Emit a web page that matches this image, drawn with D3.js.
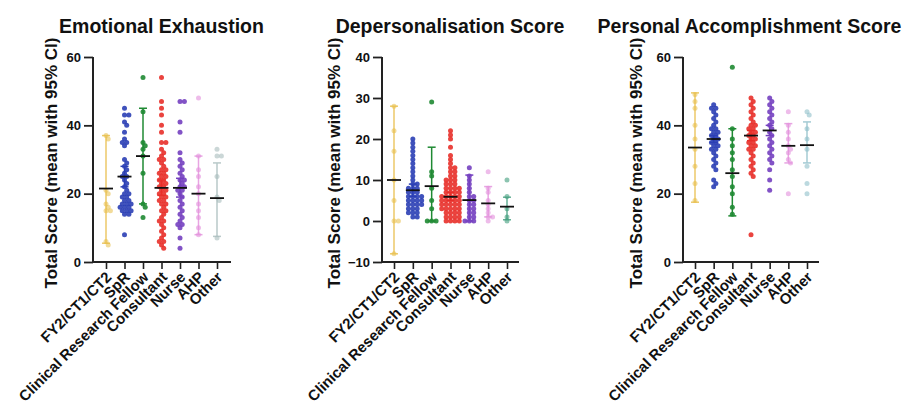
<!DOCTYPE html>
<html>
<head>
<meta charset="utf-8">
<script src="https://cdn.jsdelivr.net/npm/d3@7"></script>
<style>
  html, body { margin: 0; padding: 0; background: #fff; }
  svg { display: block; }
  text { font-family: "Liberation Sans", Arial, sans-serif; font-weight: bold; fill: #111; }
</style>
</head>
<body>
<svg id="chart" width="906" height="410"></svg>
<script>
// ---------- DATA ----------
const categories = ["FY2/CT1/CT2", "SpR", "Clinical Research Fellow", "Consultant", "Nurse", "AHP", "Other"];
const titles = ["Emotional Exhaustion", "Depersonalisation Score", "Personal Accomplishment Score"];
const yAxisLabel = "Total Score (mean with 95% CI)";

const eeTicks = [0, 20, 40, 60];
const dpTicks = [-10, 0, 10, 20, 30, 40];
const paTicks = [0, 20, 40, 60];

// Emotional Exhaustion
const eePoints = [
  [37, 36, 21, 20, 17, 16, 15, 15, 6, 5],
  [45, 43, 43, 41, 40, 38, 36, 35, 35, 34, 30, 29, 28, 27, 26, 25, 25, 24, 23, 22, 21, 20, 20, 19, 19, 18, 18, 17, 17, 17, 16, 16, 16, 15, 15, 15, 14, 14, 8],
  [54, 44, 35, 34, 33, 31, 26, 17, 16, 13],
  [54, 47, 45, 43, 40, 38, 35, 35, 33, 32, 31, 30, 30, 29, 28, 27, 27, 26, 26, 25, 25, 24, 24, 23, 23, 22, 22, 21, 21, 20, 20, 19, 19, 18, 18, 17, 17, 16, 15, 15, 14, 13, 12, 12, 11, 10, 9, 8, 7, 6, 6, 5, 4],
  [47, 47, 41, 38, 32, 30, 29, 28, 27, 26, 25, 24, 24, 23, 22, 22, 21, 21, 20, 19, 18, 17, 16, 15, 14, 13, 12, 11, 11, 10, 7, 4],
  [48, 31, 27, 25, 22, 20, 17, 15, 13, 10, 8],
  [33, 31, 31, 25, 19, 18, 7]
];
const eeMean = [21.5, 25, 31, 21.7, 21.7, 20, 18.7];
const eeLow  = [5.5, 22, 17, 19.5, 19, 8, 7.5];
const eeHigh = [37, 28, 45, 24, 24.5, 31, 29];

// Depersonalisation
const dpPoints = [
  [28, 22, 17, 10, 5, 0, 0, -8],
  [20, 19, 18, 17, 16, 15, 14, 13, 12, 11, 10, 9, 9, 8, 8, 8, 7, 7, 7, 6, 6, 6, 6, 5, 5, 5, 5, 4, 4, 4, 4, 3, 3, 3, 2, 2, 2, 1, 1],
  [29, 12, 11, 8, 5, 3, 0, 0, 0],
  [22, 21, 20, 18, 16, 15, 14, 13, 13, 12, 12, 11, 11, 10, 10, 10, 9, 9, 9, 8, 8, 8, 8, 7, 7, 7, 7, 6, 6, 6, 6, 6, 5, 5, 5, 5, 5, 4, 4, 4, 4, 4, 3, 3, 3, 3, 3, 2, 2, 2, 2, 1, 1, 1, 1, 0, 0, 0, 0],
  [13, 11, 10, 9, 8, 7, 6, 6, 5, 5, 4, 4, 3, 3, 2, 2, 1, 1, 0, 0, 0],
  [12, 8, 7, 5, 4, 3, 2, 1, 1, 0],
  [10, 6, 3, 1, 0]
];
const dpMean = [10, 7.5, 8.5, 5.9, 5.1, 4.3, 3.5];
const dpLow  = [-8, 6, 0, 5, 0, 1, 0.3];
const dpHigh = [28, 9, 18, 7, 11.2, 8.4, 5.8];

// Personal Accomplishment
const paPoints = [
  [49, 47, 45, 40, 36, 33, 28, 23, 18],
  [46, 45, 45, 44, 43, 42, 41, 40, 39, 39, 38, 38, 37, 37, 36, 36, 35, 35, 34, 34, 33, 33, 32, 31, 30, 29, 28, 27, 24, 23, 22],
  [57, 39, 36, 34, 32, 30, 27, 25, 22, 20, 16, 14],
  [48, 47, 46, 45, 44, 43, 42, 41, 40, 40, 39, 39, 38, 38, 37, 37, 36, 36, 35, 35, 34, 34, 33, 33, 32, 31, 30, 29, 28, 27, 26, 25, 8],
  [48, 47, 46, 45, 44, 43, 42, 41, 40, 39, 38, 37, 36, 35, 34, 33, 32, 31, 30, 29, 27, 24, 21],
  [44, 40, 38, 36, 34, 33, 32, 30, 29, 20],
  [44, 43, 39, 36, 33, 28, 23, 20]
];
const paMean = [33.5, 36, 26, 37, 38.5, 34, 34.2];
const paLow  = [17.5, 35, 13.5, 35.5, 37, 29, 29];
const paHigh = [49.5, 37, 39, 38.5, 40, 40.5, 41];

// ---------- STYLE / LAYOUT ----------
const basePalette = ["#e8bd45", "#2b3fb5", "#1f8a33", "#e8302a", "#7440c0", "#e38fdc"];
const otherColors = ["#a9bdbd", "#3f9c7c", "#8fbfca"];
const pointOpacity = [0.55, 0.9, 0.9, 0.9, 0.9, 0.6, 0.6];

const panels = [
  { pts: eePoints, mean: eeMean, lo: eeLow, hi: eeHigh, ticks: eeTicks, domain: [0, 60],
    ax: 93, x0: 106, x1: 217, xEnd: 231, titleX: 161.5, ylabX: 57 },
  { pts: dpPoints, mean: dpMean, lo: dpLow, hi: dpHigh, ticks: dpTicks, domain: [-10, 40],
    ax: 382, x0: 394, x1: 507, xEnd: 519, titleX: 450, ylabX: 340 },
  { pts: paPoints, mean: paMean, lo: paLow, hi: paHigh, ticks: paTicks, domain: [0, 60],
    ax: 683, x0: 695, x1: 807, xEnd: 819, titleX: 749.5, ylabX: 642 }
];

const yTop = 57, yBot = 262;
const svg = d3.select("#chart");

panels.forEach((p, pi) => {
  const g = svg.append("g");
  const y = d3.scaleLinear().domain(p.domain).range([yBot, yTop]);
  const x = d3.scalePoint().domain(categories).range([p.x0, p.x1]);
  const colors = basePalette.concat([otherColors[pi]]);

  // title
  g.append("text").attr("x", p.titleX).attr("y", 33)
    .attr("text-anchor", "middle").style("font-size", "19.5px").text(titles[pi]);

  // y label
  g.append("text")
    .attr("transform", `translate(${p.ylabX},163) rotate(-90)`)
    .attr("text-anchor", "middle").style("font-size", "17px").text(yAxisLabel);

  // y axis
  const yAxis = d3.axisLeft(y).tickValues(p.ticks).tickSize(9).tickPadding(3);
  const ya = g.append("g").attr("transform", `translate(${p.ax},0)`).call(yAxis);
  ya.select(".domain").attr("stroke", "#222").attr("stroke-width", 2).attr("d", `M0,${yTop}V${yBot + 1}`);
  ya.selectAll(".tick line").attr("stroke", "#222").attr("stroke-width", 1.8);
  ya.selectAll(".tick text").style("font-size", "13px").style("font-family", "Liberation Sans, Arial, sans-serif").style("font-weight", "bold").attr("fill", "#111");

  // x axis
  const xAxis = d3.axisBottom(x).tickSize(7).tickPadding(3);
  const xa = g.append("g").attr("transform", `translate(0,${yBot})`).call(xAxis);
  xa.select(".domain").attr("stroke", "#222").attr("stroke-width", 2).attr("d", `M${p.ax},0H${p.xEnd}`);
  xa.selectAll(".tick line").attr("stroke", "#222").attr("stroke-width", 1.6);
  xa.selectAll(".tick text")
    .style("font-size", "15px").style("font-family", "Liberation Sans, Arial, sans-serif").style("font-weight", "bold").attr("fill", "#111")
    .attr("text-anchor", "end")
    .attr("x", 0).attr("y", 0).attr("dy", "0")
    .attr("transform", "translate(6,16) rotate(-45)");

  const plot = g.append("g");

  // whiskers
  categories.forEach((c, i) => {
    const cx = x(c), col = colors[i];
    const w = plot.append("g").attr("stroke", col).attr("stroke-width", 1.5).attr("opacity", pointOpacity[i] < 0.7 ? 0.8 : 1);
    w.append("line").attr("x1", cx).attr("x2", cx).attr("y1", y(p.lo[i])).attr("y2", y(p.hi[i]));
    w.append("line").attr("x1", cx - 4).attr("x2", cx + 4).attr("y1", y(p.lo[i])).attr("y2", y(p.lo[i]));
    w.append("line").attr("x1", cx - 4).attr("x2", cx + 4).attr("y1", y(p.hi[i])).attr("y2", y(p.hi[i]));
  });

  // points (beeswarm dodge)
  const r = 2.5;
  categories.forEach((c, i) => {
    const cx0 = x(c);
    const placed = [];
    const vals = p.pts[i].slice().sort((a, b) => b - a);
    vals.forEach(v => {
      const cy = y(v);
      let k = 0, cx;
      for (let t = 0; t < 40; t++) {
        k = t === 0 ? 0 : (t % 2 ? (t + 1) / 2 : -t / 2);
        cx = cx0 + k * 2.2;
        const hit = placed.some(q => (q[0] - cx) ** 2 + (q[1] - cy) ** 2 < (2 * r * 0.72) ** 2);
        if (!hit) break;
      }
      placed.push([cx, cy]);
    });
    plot.append("g").selectAll("circle").data(placed).join("circle")
      .attr("cx", d => d[0]).attr("cy", d => d[1]).attr("r", r)
      .attr("fill", colors[i]).attr("fill-opacity", pointOpacity[i]);
  });

  // mean lines
  categories.forEach((c, i) => {
    const cx = x(c);
    plot.append("line").attr("x1", cx - 7).attr("x2", cx + 7)
      .attr("y1", y(p.mean[i])).attr("y2", y(p.mean[i]))
      .attr("stroke", "#111").attr("stroke-width", 1.8);
  });
});
</script>
</body>
</html>
